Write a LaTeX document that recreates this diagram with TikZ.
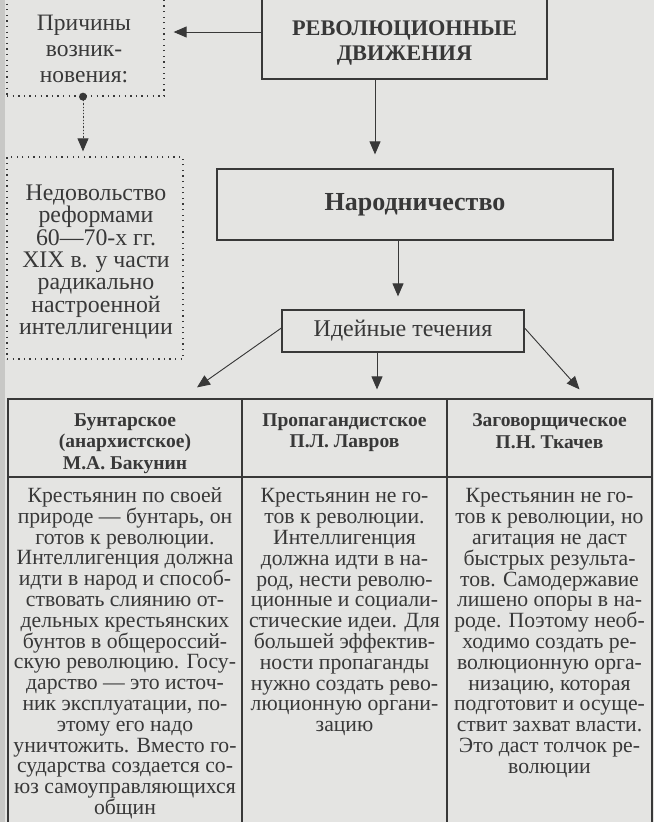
\documentclass[tikz,border=0pt]{standalone}
\usepackage{fontspec}
\setmainfont{Liberation Serif}
\usetikzlibrary{arrows.meta, positioning}
\definecolor{paper}{HTML}{E4E4E2}
\definecolor{spine}{HTML}{C8C8C6}
\definecolor{ink}{HTML}{383838}

\begin{document}
\begin{tikzpicture}[
    x=1pt, y=-1pt,
    box/.style={draw=ink, line width=1.2pt, inner sep=0pt},
    dotbox/.style={draw=ink, line width=1.3pt, dash pattern=on 1.3pt off 4.3pt, inner sep=0pt},
    arrow/.style={-{Triangle[length=13pt, width=11pt]}, draw=ink, fill=ink, line width=0.9pt},
    body/.style={text=ink, align=center, inner sep=0pt, font=\fontsize{21.7}{20.8}\selectfont},
    side/.style={text=ink, align=center, inner sep=0pt, font=\fontsize{23.8}{22.4}\selectfont},
    head/.style={text=ink, align=center, inner sep=0pt, font=\bfseries\fontsize{19.5}{21.5}\selectfont},
]
    \clip (0,0) rectangle (654,822);
    \fill[paper] (0,0) rectangle (654,822);
    \fill[spine] (0,0) rectangle (5,822);

    % Top box (runs off the page)
    \node[box, minimum width=285, minimum height=100] (rev) at (404.5, 29) {};
    \node[text=ink, align=center, inner sep=0pt, font=\bfseries\fontsize{22.3}{25.5}\selectfont] (revtext) at (404.5, 43) {РЕВОЛЮЦИОННЫЕ\\ДВИЖЕНИЯ};

    % Causes (dotted boxes)
    \node[dotbox, minimum width=157, minimum height=116] (prich) at (85.5, 38) {};
    \node[side, font=\fontsize{23.5}{26}\selectfont] (prichtext) at (84, 49) {Причины\\возник-\\новения:};
    \node[dotbox, minimum width=176, minimum height=202] (nedov) at (95, 258) {};
    \node[side] (nedovtext) at (96, 262) {Недовольство\\реформами\\60—70-х гг.\\XIX в. у части\\радикально\\настроенной\\интеллигенции};

    % Narodnichestvo
    \node[box, minimum width=396, minimum height=71, text=ink, font=\bfseries\fontsize{26}{30}\selectfont] (narod) at (415, 204.5) {Народничество};
    \node[box, minimum width=242, minimum height=42, text=ink, inner sep=0pt, font=\fontsize{24}{26}\selectfont] (ideas) at (403, 331) {Идейные течения};

    % Table
    \node[box, minimum width=234, minimum height=78] (h1) at (125, 438) {};
    \node[box, minimum width=205, minimum height=78] (h2) at (344.5, 438) {};
    \node[box, minimum width=205, minimum height=78] (h3) at (549.5, 438) {};
    \node[box, minimum width=234, minimum height=380] (b1) at (125, 667) {};
    \node[box, minimum width=205, minimum height=380] (b2) at (344.5, 667) {};
    \node[box, minimum width=205, minimum height=380] (b3) at (549.5, 667) {};

    \node[head, below=15pt of h1.north] (h1text) {Бунтарское\\(анархистское)\\М.А. Бакунин};
    \node[head, below=15pt of h2.north] (h2text) {Пропагандистское\\П.Л. Лавров};
    \node[head, below=15pt of h3.north] (h3text) {Заговорщическое\\П.Н. Ткачев};

    \node[body, below=11pt of b1.north] (b1text) {Крестьянин по своей\\природе — бунтарь, он\\готов к революции.\\Интеллигенция должна\\идти в народ и способ-\\ствовать слиянию от-\\дельных крестьянских\\бунтов в общероссий-\\скую революцию. Госу-\\дарство — это источ-\\ник эксплуатации, по-\\этому его надо\\уничтожить. Вместо го-\\сударства создается со-\\юз самоуправляющихся\\общин};
    \node[body, below=12pt of b2.north] (b2text) {Крестьянин не го-\\тов к революции.\\Интеллигенция\\должна идти в на-\\род, нести револю-\\ционные и социали-\\стические идеи. Для\\большей эффектив-\\ности пропаганды\\нужно создать рево-\\люционную органи-\\зацию};
    \node[body, below=12pt of b3.north] (b3text) {Крестьянин не го-\\тов к революции, но\\агитация не даст\\быстрых результа-\\тов. Самодержавие\\лишено опоры в на-\\роде. Поэтому необ-\\ходимо создать ре-\\волюционную орга-\\низацию, которая\\подготовит и осуще-\\ствит захват власти.\\Это даст толчок ре-\\волюции};

    % Arrows
    \draw[arrow, shorten >=9pt] ([yshift=-3pt]rev.west) -- ([yshift=-3pt]rev.west -| prich.east);
    \draw[arrow, shorten >=14pt] ([xshift=-29.5pt]rev.south) -- ([xshift=-29.5pt]rev.south |- narod.north);
    \fill[ink] ([xshift=-2.5pt]prich.south) circle (4pt);
    \draw[arrow, dash pattern=on 1.3pt off 2pt, shorten >=5pt] ([xshift=-2.5pt]prich.south) -- ([xshift=-2.5pt]prich.south |- nedov.north);
    \draw[arrow, shorten >=13pt] ([xshift=-17pt]narod.south) -- ([xshift=-17pt]narod.south |- ideas.north);
    \draw[arrow] ([yshift=3pt]ideas.west) -- ([xshift=72pt, yshift=11pt]h1.north);
    \draw[arrow, shorten >=9pt] ([xshift=-26pt]ideas.south) -- ([xshift=-26pt]ideas.south |- h2.north);
    \draw[arrow] ([yshift=3pt]ideas.east) -- ([xshift=30pt, yshift=9pt]h3.north);
\end{tikzpicture}
\end{document}
